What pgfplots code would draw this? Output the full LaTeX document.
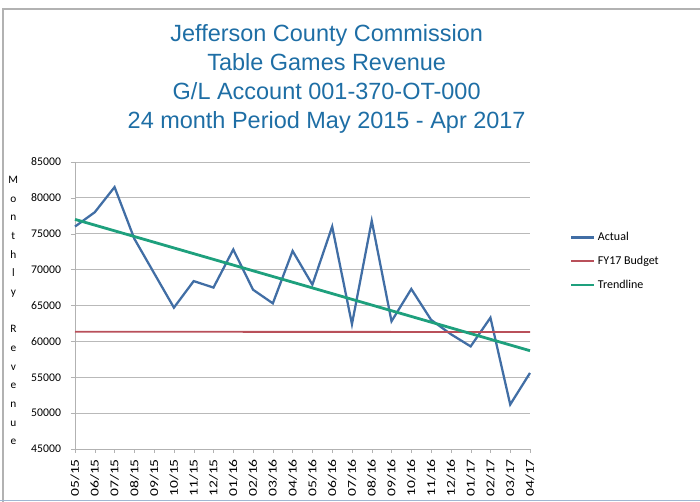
\documentclass[border=0pt]{standalone}
\usepackage{fontspec}
\setmainfont{Carlito}
\newfontfamily\arialf{Liberation Sans}
\usepackage{pgfplots}
\pgfplotsset{compat=1.18}
\definecolor{titleblue}{RGB}{30,110,165}
\definecolor{actualc}{RGB}{65,110,165}
\definecolor{budgetc}{RGB}{185,80,90}
\definecolor{trendc}{RGB}{30,160,125}
\begin{document}
\begin{tikzpicture}
\useasboundingbox (0,0) rectangle (525pt,376.5pt);
\draw[gray!60, line width=0.8pt] (2.25pt,0) -- (2.25pt,369.75pt) -- (525pt,369.75pt);
\draw[actualc!50, line width=1pt] (0,1pt) -- (525pt,1pt);
% title
\node[anchor=base, font=\arialf\fontsize{17.6}{20}\selectfont, text=titleblue, inner sep=0pt] at (245pt,345.2pt) {Jefferson County Commission};
\node[anchor=base, font=\arialf\fontsize{17.6}{20}\selectfont, text=titleblue, inner sep=0pt] at (245pt,323.4pt) {Table Games Revenue};
\node[anchor=base, font=\arialf\fontsize{17.6}{20}\selectfont, text=titleblue, inner sep=0pt] at (245pt,301.5pt) {G/L Account 001-370-OT-000};
\node[anchor=base, font=\arialf\fontsize{17.6}{20}\selectfont, text=titleblue, inner sep=0pt] at (245pt,280.3pt) {24 month Period May 2015 - Apr 2017};
% y label (stacked letters)
\node[align=center, font=\fontsize{8.5}{14}\selectfont, inner sep=0pt] at (10pt,143.5pt) {M\\o\\n\\t\\h\\l\\y\\[14pt]R\\e\\v\\e\\n\\u\\e};
\begin{axis}[
  at={(56.25pt,39.75pt)}, anchor=south west,
  scale only axis, width=341.25pt, height=215.25pt,
  xmin=0, xmax=23, ymin=45000, ymax=85000,
  ytick={45000,50000,...,85000},
  xtick={0,...,23},
  xticklabels={05/15,06/15,07/15,08/15,09/15,10/15,11/15,12/15,01/16,02/16,03/16,04/16,05/16,06/16,07/16,08/16,09/16,10/16,11/16,12/16,01/17,02/17,03/17,04/17},
  /pgf/number format/assume math mode=true,
  scaled y ticks=false,
  yticklabel style={/pgf/number format/1000 sep={}, font=\fontsize{8.8}{10}\selectfont, xshift=-4pt},
  xticklabel style={rotate=90, anchor=east, font=\fontsize{9}{10}\selectfont, xscale=1.3},
  ymajorgrids, major grid style={gray!55, line width=0.6pt},
  axis x line*=bottom, axis y line*=left,
  axis line style={gray!60, line width=0.6pt},
  tick style={gray!60}, tick align=outside, major tick length=3pt,
  legend style={at={(1.088,0.765)}, anchor=north west, draw=none, fill=none,
    font=\fontsize{9}{10}\selectfont, row sep=6pt, inner sep=0pt,
    cells={anchor=west}},
  legend image code/.code={\draw[#1, line width=1.7pt] (0pt,0pt) -- (17pt,0pt);},
  clip=false,
]
\addplot[actualc, line width=1.7pt] coordinates {
(0,76000) (1,78000) (2,81500) (3,74300) (4,69500) (5,64700) (6,68400) (7,67500)
(8,72800) (9,67200) (10,65300) (11,72600) (12,67900) (13,76000) (14,62400) (15,76800)
(16,62800) (17,67300) (18,63000) (19,61000) (20,59300) (21,63300) (22,51200) (23,55600)};
\addlegendentry{Actual}
\addplot[budgetc, line width=1.4pt] coordinates {(0,61350) (23,61300)};
\addlegendentry{FY17 Budget}
\addplot[trendc, line width=2.1pt] coordinates {(0,77000) (23,58700)};
\addlegendentry{Trendline}
\end{axis}
\end{tikzpicture}
\end{document}
